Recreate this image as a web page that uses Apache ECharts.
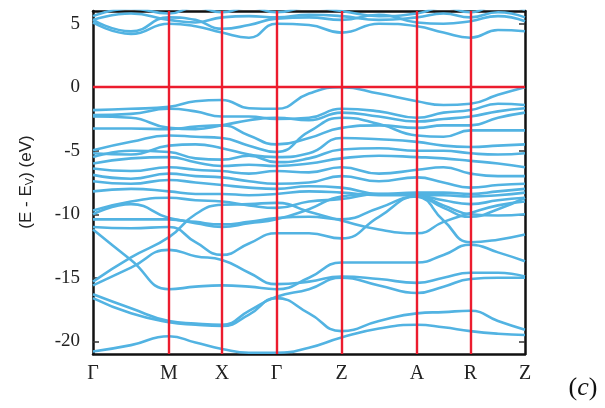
<!DOCTYPE html>
<html>
<head>
<meta charset="utf-8">
<script src="https://cdn.jsdelivr.net/npm/echarts@6/dist/echarts.min.js"></script>
<style>
  html, body { margin: 0; padding: 0; background: #fff; }
  #chart { width: 605px; height: 408px; }
</style>
</head>
<body>
<div id="chart"></div>
<script>
// k-path: high-symmetry points and their cumulative path coordinate
const kLabels = ['Γ', 'M', 'X', 'Γ', 'Z', 'A', 'R', 'Z'];
const kTicks = [0, 76, 129, 183.5, 248.5, 324, 377.5, 432];
// sampling points along the path (symmetry points plus one point inside each segment)
const kPath = [0, 38, 76, 102.5, 129, 156, 183.5, 216, 248.5, 286, 324, 350.5, 377.5, 405, 432];

// energy tick labels (eV)
const energyTicks = [-20, -15, -10, -5, 0, 5];

// conduction bands (eV), sampled at kPath
const cb1 = [5.1, 4.2, 5.0, 4.8, 4.3, 3.9, 5.0, 4.9, 4.3, 5.0, 4.8, 4.3, 3.9, 4.5, 4.4];
const cb2 = [5.3, 4.4, 5.5, 5.3, 4.6, 4.9, 5.4, 5.5, 5.3, 5.7, 5.1, 5.0, 5.2, 5.6, 5.2];
const cb3 = [5.3, 5.8, 5.3, 5.1, 5.5, 5.6, 5.5, 5.7, 5.6, 5.3, 5.5, 5.8, 5.5, 5.9, 5.5];
const cb4 = [5.6, 6.2, 5.8, 6.3, 5.9, 6.3, 5.9, 6.3, 6.0, 5.6, 5.8, 6.3, 5.9, 6.5, 6.1];

// upper valence bands (eV)
const vb1 = [-1.8, -1.7, -1.55, -1.1, -1.0, -1.65, -1.7, -0.5, 0.0, -0.5, -1.1, -1.4, -1.3, -0.6, 0.0];
const vb2 = [-2.2, -2.1, -1.7, -1.9, -2.3, -2.3, -2.5, -2.4, -1.7, -1.9, -2.4, -2.0, -1.8, -1.3, -1.4];
const vb3 = [-2.3, -2.4, -3.2, -3.3, -3.0, -2.6, -2.4, -2.6, -2.0, -2.3, -2.7, -2.5, -2.3, -1.9, -1.65];
const vb4 = [-3.25, -3.25, -3.3, -3.1, -3.0, -3.8, -4.5, -4.0, -3.2, -3.0, -3.2, -3.0, -3.0, -2.4, -2.0];
const vb5 = [-4.96, -4.3, -3.8, -3.9, -4.0, -4.6, -5.1, -3.5, -2.4, -2.9, -3.8, -3.9, -3.4, -3.4, -3.4];
const vb6 = [-5.2, -5.3, -4.6, -4.5, -4.8, -5.3, -5.5, -5.2, -4.0, -4.1, -4.3, -4.6, -4.7, -4.6, -4.5];
const vb7 = [-5.5, -5.0, -5.1, -5.6, -5.7, -5.4, -5.9, -5.6, -4.9, -4.8, -5.0, -5.0, -5.2, -5.3, -5.2];
const vb8 = [-6.0, -5.6, -5.5, -5.9, -6.2, -6.1, -6.2, -6.0, -5.6, -5.4, -5.5, -5.6, -5.8, -6.0, -6.3];
const vb9 = [-6.4, -6.6, -6.3, -6.5, -6.6, -6.8, -6.6, -6.7, -6.3, -6.8, -6.5, -6.3, -6.8, -7.0, -7.0];
const vb10 = [-6.9, -7.2, -6.8, -7.0, -7.1, -7.4, -7.6, -7.5, -7.0, -7.4, -7.1, -7.5, -7.9, -7.7, -7.6];
const vb11 = [-7.4, -7.6, -7.3, -7.5, -7.7, -7.9, -8.0, -7.8, -7.9, -8.4, -8.3, -8.3, -8.4, -8.2, -8.0];
const vb12 = [-8.2, -8.0, -8.2, -8.4, -8.4, -8.5, -8.4, -8.2, -8.3, -8.5, -8.5, -8.5, -8.6, -8.5, -8.3];

// lower valence bands (eV)
const lb1 = [-9.7, -9.0, -8.7, -8.9, -9.0, -9.3, -9.5, -9.0, -8.8, -8.4, -8.5, -8.9, -9.2, -8.9, -8.7];
const lb2 = [-10.0, -9.2, -10.3, -10.6, -10.8, -10.6, -10.3, -10.2, -10.4, -9.5, -8.6, -9.3, -10.0, -10.1, -10.0];
const lb3 = [-10.4, -10.4, -10.4, -10.7, -11.0, -10.7, -10.4, -9.6, -8.6, -8.4, -8.6, -10.5, -12.2, -12.0, -11.6];
const lb4 = [-11.0, -11.1, -11.0, -12.2, -13.2, -12.3, -11.5, -11.5, -11.9, -10.2, -8.6, -9.5, -10.2, -9.6, -8.7];
const lb5 = [-11.2, -13.6, -15.9, -15.7, -15.6, -15.7, -15.9, -15.0, -13.8, -13.8, -13.8, -13.2, -12.4, -13.0, -13.7];
const lb6 = [-15.3, -13.4, -11.8, -10.0, -9.25, -9.2, -9.1, -9.8, -10.5, -11.2, -11.5, -10.6, -9.9, -9.3, -9.0];
const lb7 = [-15.6, -14.2, -12.8, -13.3, -13.6, -14.6, -15.5, -15.3, -14.9, -15.1, -15.4, -15.0, -14.6, -14.6, -14.9];
const lb8 = [-16.3, -17.4, -18.4, -18.6, -18.7, -17.6, -16.5, -15.9, -15.0, -15.6, -16.2, -15.7, -15.1, -15.0, -15.0];
const lb9 = [-16.6, -17.8, -18.5, -18.7, -18.8, -17.9, -16.6, -17.8, -19.2, -18.4, -17.8, -17.7, -17.6, -18.4, -19.1];
const lb10 = [-20.8, -20.3, -19.6, -20.1, -20.6, -20.9, -20.9, -20.5, -19.7, -19.0, -18.7, -18.9, -19.2, -19.4, -19.5];

const bands = [cb1, cb2, cb3, cb4,
  vb1, vb2, vb3, vb4, vb5, vb6, vb7, vb8, vb9, vb10, vb11, vb12,
  lb1, lb2, lb3, lb4, lb5, lb6, lb7, lb8, lb9, lb10];

const BAND_COLOR = '#52b3e2';
const RED = '#ec1c2e';
const FRAME = '#111';

const chart = echarts.init(document.getElementById('chart'), null, { renderer: 'canvas' });

const bandSeries = bands.map((b, idx) => ({
  type: 'line',
  name: 'band' + idx,
  data: b.map((e, i) => [kPath[i], e]),
  showSymbol: false,
  smooth: 0.5,
  clip: true,
  silent: true,
  z: 3,
  lineStyle: { color: BAND_COLOR, width: 2.6 },
  animation: false
}));

// red guide lines: symmetry points and the valence-band maximum
const guideSeries = {
  type: 'line',
  data: [],
  z: 2,
  silent: true,
  animation: false,
  markLine: {
    silent: true,
    symbol: ['none', 'none'],
    label: { show: false },
    lineStyle: { color: RED, width: 2.4, type: 'solid' },
    animation: false,
    data: kTicks.slice(1, -1).map(k => ({ xAxis: k })).concat([{ yAxis: 0 }])
  }
};

const option = {
  backgroundColor: '#fff',
  animation: false,
  grid: { left: 93, top: 11, width: 432, height: 343, containLabel: false },
  xAxis: [
    {
      type: 'value', min: 0, max: 432, position: 'bottom',
      axisLine: { show: true, onZero: false, lineStyle: { color: FRAME, width: 2.5 } },
      axisTick: { show: false },
      splitLine: { show: false },
      axisLabel: {
        customValues: kTicks,
        formatter: v => kLabels[kTicks.indexOf(v)] || '',
        fontFamily: 'Liberation Serif', fontSize: 20, color: '#222', margin: 10
      }
    },
    {
      type: 'value', min: 0, max: 432, position: 'top',
      axisLine: { show: true, onZero: false, lineStyle: { color: FRAME, width: 2.5 } },
      axisTick: { show: false }, axisLabel: { show: false }, splitLine: { show: false }
    }
  ],
  yAxis: [
    {
      type: 'value', min: -21, max: 6, position: 'left',
      axisLine: { show: true, onZero: false, lineStyle: { color: FRAME, width: 2.5 } },
      axisTick: { show: true, inside: true, length: 6, customValues: energyTicks, lineStyle: { color: '#333', width: 1.5 } },
      splitLine: { show: false },
      axisLabel: {
        customValues: energyTicks,
        fontFamily: 'Liberation Serif', fontSize: 19, color: '#222', margin: 13
      }
    },
    {
      type: 'value', min: -21, max: 6, position: 'right',
      axisLine: { show: true, onZero: false, lineStyle: { color: FRAME, width: 2.5 } },
      axisTick: { show: true, inside: true, length: 6, customValues: energyTicks, lineStyle: { color: '#333', width: 1.5 } },
      splitLine: { show: false },
      axisLabel: { show: false }
    }
  ],
  graphic: [
    {
      type: 'text',
      x: 25, y: 182,
      rotation: Math.PI / 2,
      style: {
        text: '{n|(E - E}{s|V}{n|) (eV)}',
        align: 'center', verticalAlign: 'middle',
        rich: {
          n: { fontFamily: 'Liberation Sans', fontSize: 17, fill: '#222', verticalAlign: 'bottom', lineHeight: 20 },
          s: { fontFamily: 'Liberation Sans', fontSize: 11, fill: '#222', verticalAlign: 'bottom', padding: [9, 0, 0, 0] }
        }
      }
    },
    {
      type: 'text',
      x: 583, y: 388,
      style: {
        text: '{p|(}{i|c}{p|)}',
        align: 'center', verticalAlign: 'middle',
        rich: {
          p: { fontFamily: 'Liberation Serif', fontSize: 26, fill: '#111' },
          i: { fontFamily: 'Liberation Serif', fontStyle: 'italic', fontSize: 26, fill: '#111' }
        }
      }
    }
  ],
  series: [guideSeries].concat(bandSeries)
};

chart.setOption(option);
</script>
</body>
</html>
